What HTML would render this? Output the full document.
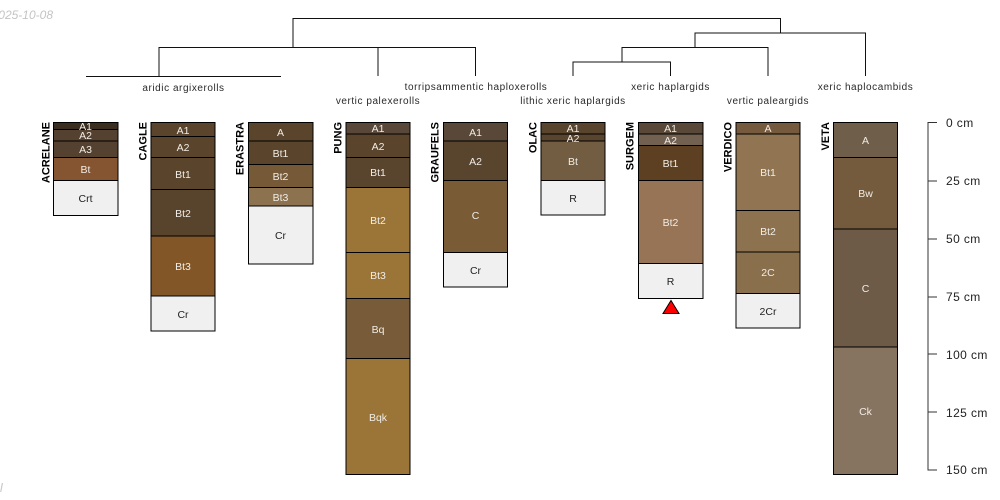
<!DOCTYPE html>
<html><head><meta charset="utf-8"><style>
html,body{margin:0;padding:0;background:#fff}
svg{display:block}
text{font-family:"Liberation Sans",sans-serif}
.h{font-size:10.5px;text-anchor:middle;fill:#f0ece6}
.d{font-size:10.5px;text-anchor:middle;fill:#222}
.t{font-size:10px;text-anchor:middle;fill:#2a2a2a;letter-spacing:.55px}
.n{font-size:11px;font-weight:bold;text-anchor:end;fill:#000}
.a{font-size:12px;fill:#222;letter-spacing:.4px}
rect{stroke:#000;stroke-width:1}
</style></head><body>
<svg width="1000" height="500" viewBox="0 0 1000 500" xmlns="http://www.w3.org/2000/svg">
<text x="-8.4" y="19" font-size="12" font-style="italic" fill="#c4c4c4">2025-10-08</text>
<text x="0" y="492" font-size="12" font-style="italic" fill="#c4c4c4">l</text>
<path fill="none" stroke="#111" stroke-width="1" d="M293 47V18.5H780.5V33M86 76.5H281M159 76V47.5H475.5V76M378 47.5V76M695 47V33H865.5V76M622 62V47.5H768V76M573 76V62H670.5V76"/>
<text class="t" x="183.5" y="91">aridic argixerolls</text>
<text class="t" x="378" y="104">vertic palexerolls</text>
<text class="t" x="476" y="90">torripsammentic haploxerolls</text>
<text class="t" x="573" y="104">lithic xeric haplargids</text>
<text class="t" x="670.5" y="90">xeric haplargids</text>
<text class="t" x="768" y="104">vertic paleargids</text>
<text class="t" x="865.5" y="90">xeric haplocambids</text>

<g>
<rect x="53.5" y="122.5" width="64.5" height="7" fill="#3b2e20"/><rect x="53.5" y="129.5" width="64.5" height="11.5" fill="#54412f"/><rect x="53.5" y="141" width="64.5" height="16.5" fill="#54412f"/><rect x="53.5" y="157.5" width="64.5" height="23" fill="#855430"/><rect x="53.5" y="180.5" width="64.5" height="35" fill="#f0f0f0"/>
<text class="h" x="85.5" y="130">A1</text><text class="h" x="85.5" y="139">A2</text><text class="h" x="85.5" y="153">A3</text><text class="h" x="85.5" y="173">Bt</text><text class="d" x="85.5" y="202">Crt</text>
<text class="n" transform="translate(49.5,122) rotate(-90)">ACRELANE</text>
</g>
<g>
<rect x="151" y="122.5" width="64" height="14" fill="#5a452c"/><rect x="151" y="136.5" width="64" height="21" fill="#5a452c"/><rect x="151" y="157.5" width="64" height="32" fill="#5a452c"/><rect x="151" y="189.5" width="64" height="46.5" fill="#58442c"/><rect x="151" y="236" width="64" height="60" fill="#835628"/><rect x="151" y="296" width="64" height="35" fill="#f0f0f0"/>
<text class="h" x="183" y="134">A1</text><text class="h" x="183" y="151">A2</text><text class="h" x="183" y="178">Bt1</text><text class="h" x="183" y="217">Bt2</text><text class="h" x="183" y="270">Bt3</text><text class="d" x="183" y="318">Cr</text>
<text class="n" transform="translate(146.5,122) rotate(-90)">CAGLE</text>
</g>
<g>
<rect x="248.5" y="122.5" width="64.5" height="18.5" fill="#5a452c"/><rect x="248.5" y="141" width="64.5" height="23.5" fill="#5a452c"/><rect x="248.5" y="164.5" width="64.5" height="23" fill="#765a38"/><rect x="248.5" y="187.5" width="64.5" height="18.5" fill="#8d7250"/><rect x="248.5" y="206" width="64.5" height="58" fill="#f0f0f0"/>
<text class="h" x="280.5" y="136">A</text><text class="h" x="280.5" y="157">Bt1</text><text class="h" x="280.5" y="180">Bt2</text><text class="h" x="280.5" y="201">Bt3</text><text class="d" x="280.5" y="239">Cr</text>
<text class="n" transform="translate(243.5,122) rotate(-90)">ERASTRA</text>
</g>
<g>
<rect x="346" y="122.5" width="64" height="11.5" fill="#59483a"/><rect x="346" y="134" width="64" height="23.5" fill="#5a452c"/><rect x="346" y="157.5" width="64" height="30" fill="#59452e"/><rect x="346" y="187.5" width="64" height="65" fill="#9b7538"/><rect x="346" y="252.5" width="64" height="46" fill="#9b7538"/><rect x="346" y="298.5" width="64" height="60" fill="#785b38"/><rect x="346" y="358.5" width="64" height="116" fill="#9b7538"/>
<text class="h" x="378" y="132">A1</text><text class="h" x="378" y="150">A2</text><text class="h" x="378" y="176">Bt1</text><text class="h" x="378" y="224">Bt2</text><text class="h" x="378" y="279">Bt3</text><text class="h" x="378" y="333">Bq</text><text class="h" x="378" y="421">Bqk</text>
<text class="n" transform="translate(341.5,122) rotate(-90)">PUNG</text>
</g>
<g>
<rect x="443.5" y="122.5" width="64" height="18.5" fill="#594838"/><rect x="443.5" y="141" width="64" height="39.5" fill="#59452e"/><rect x="443.5" y="180.5" width="64" height="72" fill="#795b36"/><rect x="443.5" y="252.5" width="64" height="34.5" fill="#f0f0f0"/>
<text class="h" x="475.5" y="136">A1</text><text class="h" x="475.5" y="165">A2</text><text class="h" x="475.5" y="219">C</text><text class="d" x="475.5" y="274">Cr</text>
<text class="n" transform="translate(438.5,122) rotate(-90)">GRAUFELS</text>
</g>
<g>
<rect x="541" y="122.5" width="64" height="11.5" fill="#59452e"/><rect x="541" y="134" width="64" height="7" fill="#59452e"/><rect x="541" y="141" width="64" height="39.5" fill="#725c42"/><rect x="541" y="180.5" width="64" height="34.5" fill="#f0f0f0"/>
<text class="h" x="573" y="132">A1</text><text class="h" x="573" y="142">A2</text><text class="h" x="573" y="165">Bt</text><text class="d" x="573" y="202">R</text>
<text class="n" transform="translate(536.5,122) rotate(-90)">OLAC</text>
</g>
<g>
<rect x="638.5" y="122.5" width="64.5" height="11.5" fill="#594838"/><rect x="638.5" y="134" width="64.5" height="11.5" fill="#726050"/><rect x="638.5" y="145.5" width="64.5" height="35" fill="#5d4022"/><rect x="638.5" y="180.5" width="64.5" height="83" fill="#977455"/><rect x="638.5" y="263.5" width="64.5" height="35" fill="#f0f0f0"/>
<text class="h" x="670.5" y="132">A1</text><text class="h" x="670.5" y="144">A2</text><text class="h" x="670.5" y="167">Bt1</text><text class="h" x="670.5" y="226">Bt2</text><text class="d" x="670.5" y="285">R</text>
<polygon points="671,300.5 679,313.5 663,313.5" fill="#f00" stroke="#000" stroke-width="1"/>
<text class="n" transform="translate(633.5,122) rotate(-90)">SURGEM</text>
</g>
<g>
<rect x="736" y="122.5" width="64" height="11.5" fill="#765a3e"/><rect x="736" y="134" width="64" height="76.5" fill="#917451"/><rect x="736" y="210.5" width="64" height="41.5" fill="#8d7250"/><rect x="736" y="252" width="64" height="41.5" fill="#8a6f4c"/><rect x="736" y="293.5" width="64" height="34.5" fill="#f0f0f0"/>
<text class="h" x="768" y="132">A</text><text class="h" x="768" y="176">Bt1</text><text class="h" x="768" y="235">Bt2</text><text class="h" x="768" y="276">2C</text><text class="d" x="768" y="315">2Cr</text>
<text class="n" transform="translate(731.5,122) rotate(-90)">VERDICO</text>
</g>
<g>
<rect x="833.5" y="122.5" width="64" height="35" fill="#6f5e4a"/><rect x="833.5" y="157.5" width="64" height="71.5" fill="#745b3e"/><rect x="833.5" y="229" width="64" height="118" fill="#6d5b48"/><rect x="833.5" y="347" width="64" height="127.5" fill="#877460"/>
<text class="h" x="865.5" y="144">A</text><text class="h" x="865.5" y="197">Bw</text><text class="h" x="865.5" y="292">C</text><text class="h" x="865.5" y="415">Ck</text>
<text class="n" transform="translate(829,122) rotate(-90)">VETA</text>
</g>

<path fill="none" stroke="#333" stroke-width="1" d="M937 122.5H928V470H937M928 181H937M928 239H937M928 297H937M928 354H937M928 412H937"/>
<text class="a" x="946" y="127">0 cm</text>
<text class="a" x="946" y="185">25 cm</text>
<text class="a" x="946" y="243">50 cm</text>
<text class="a" x="946" y="301">75 cm</text>
<text class="a" x="946" y="359">100 cm</text>
<text class="a" x="946" y="417">125 cm</text>
<text class="a" x="946" y="474">150 cm</text>
</svg>
</body></html>
